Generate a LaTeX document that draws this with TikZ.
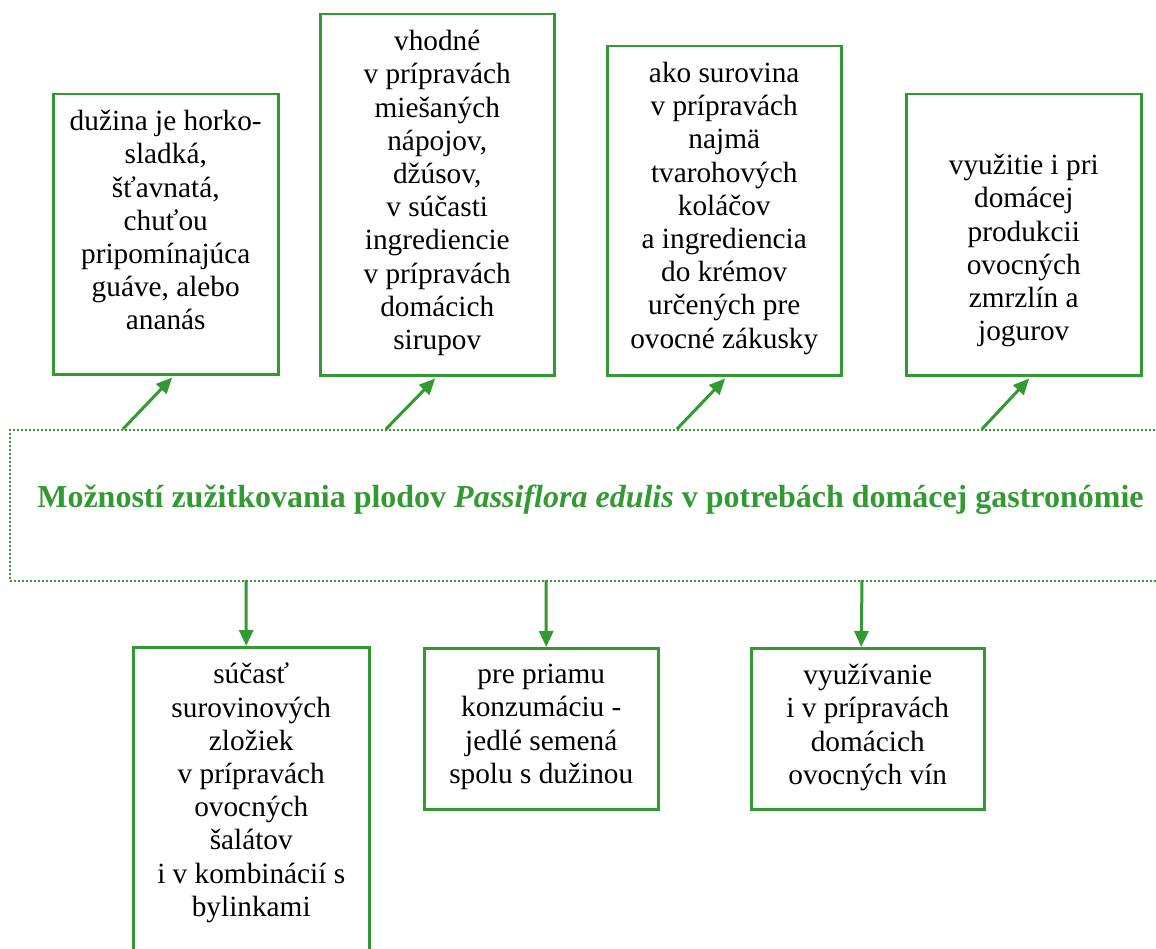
\documentclass[tikz,border=0pt]{standalone}
\usepackage{fontspec}
\setmainfont{Liberation Serif}
\usepackage{tikz}
\usetikzlibrary{calc, arrows.meta}
\definecolor{zelena}{RGB}{51,153,51}
\newcommand{\okno}[4]{\parbox[c][#2pt][t]{#1pt}{\centering\vspace*{#3pt}#4}}

\begin{document}
\begin{tikzpicture}[x=1pt,y=-1pt,
	okno/.style={draw=zelena,line width=2.5pt,inner sep=0pt,anchor=north west,font=\fontsize{29.3}{33.2}\selectfont},
	sipka/.style={-{Triangle[length=16pt,width=14pt]},draw=zelena,line width=3pt}]
		\useasboundingbox (0,0) rectangle (1156,949);
		% hlavny ramcek
		\node[draw=zelena,line width=2pt,dash pattern=on 2pt off 2pt,inner sep=0pt,anchor=north west,
			minimum width=1161pt,minimum height=151pt,text=zelena,text depth=19pt,font=\fontsize{32}{36}\selectfont\bfseries]
			(M) at (9,429) {Možností zužitkovania plodov \textit{Passiflora edulis} v potrebách domácej gastronómie};
		% horne okna
		\node[okno](A)at(52,93){\okno{225}{280}{16}{dužina je horko-\\ sladká,\\ šťavnatá,\\ chuťou\\ pripomínajúca\\ guáve, alebo\\ ananás}};
		\node[okno](B)at(319,13){\okno{234}{361}{16}{vhodné\\ v prípravách\\ miešaných\\ nápojov,\\ džúsov,\\ v súčasti\\ ingrediencie\\ v prípravách\\ domácich\\ sirupov}};
		\node[okno](C)at(606,45){\okno{234}{329}{16}{ako surovina\\ v prípravách\\ najmä\\ tvarohových\\ koláčov\\ a ingrediencia\\ do krémov\\ určených pre\\ ovocné zákusky}};
		\node[okno](D)at(905,93){\okno{235}{281}{60}{využitie i pri\\ domácej\\ produkcii\\ ovocných\\ zmrzlín a\\ jogurov}};
		% dolne okna
		\node[okno](E)at(132,646){\okno{236}{320}{16}{súčasť\\ surovinových\\ zložiek\\ v prípravách\\ ovocných\\ šalátov\\ i v kombinácií s\\ bylinkami}};
		\node[okno](F)at(423,647){\okno{234}{161}{16}{pre priamu\\ konzumáciu -\\ jedlé semená\\ spolu s dužinou}};
		\node[okno](G)at(750,647){\okno{233}{161}{16}{využívanie\\ i v prípravách\\ domácich\\ ovocných vín}};
		% sipky hore
		\coordinate(a1)at(123,429);
		\coordinate(a2)at(386,429);
		\coordinate(a3)at(677,429);
		\coordinate(a4)at(982,429);
		\draw[sipka](a1)--($(A.south)+(6.5,2)$);
		\draw[sipka](a2)--($(B.south)+(-2,2)$);
		\draw[sipka](a3)--($(C.south)+(1,2)$);
		\draw[sipka](a4)--($(D.south)+(5.5,2)$);
		% sipky dole
		\coordinate(b1)at(246,580);
		\coordinate(b2)at(546,580);
		\coordinate(b3)at(862,580);
		\draw[sipka](b1)--($(E.north)+(-5,0)$);
		\draw[sipka](b2)--($(F.north)+(5,0)$);
		\draw[sipka](b3)--($(G.north)+(-6.5,0)$);
	\end{tikzpicture}
\end{document}
